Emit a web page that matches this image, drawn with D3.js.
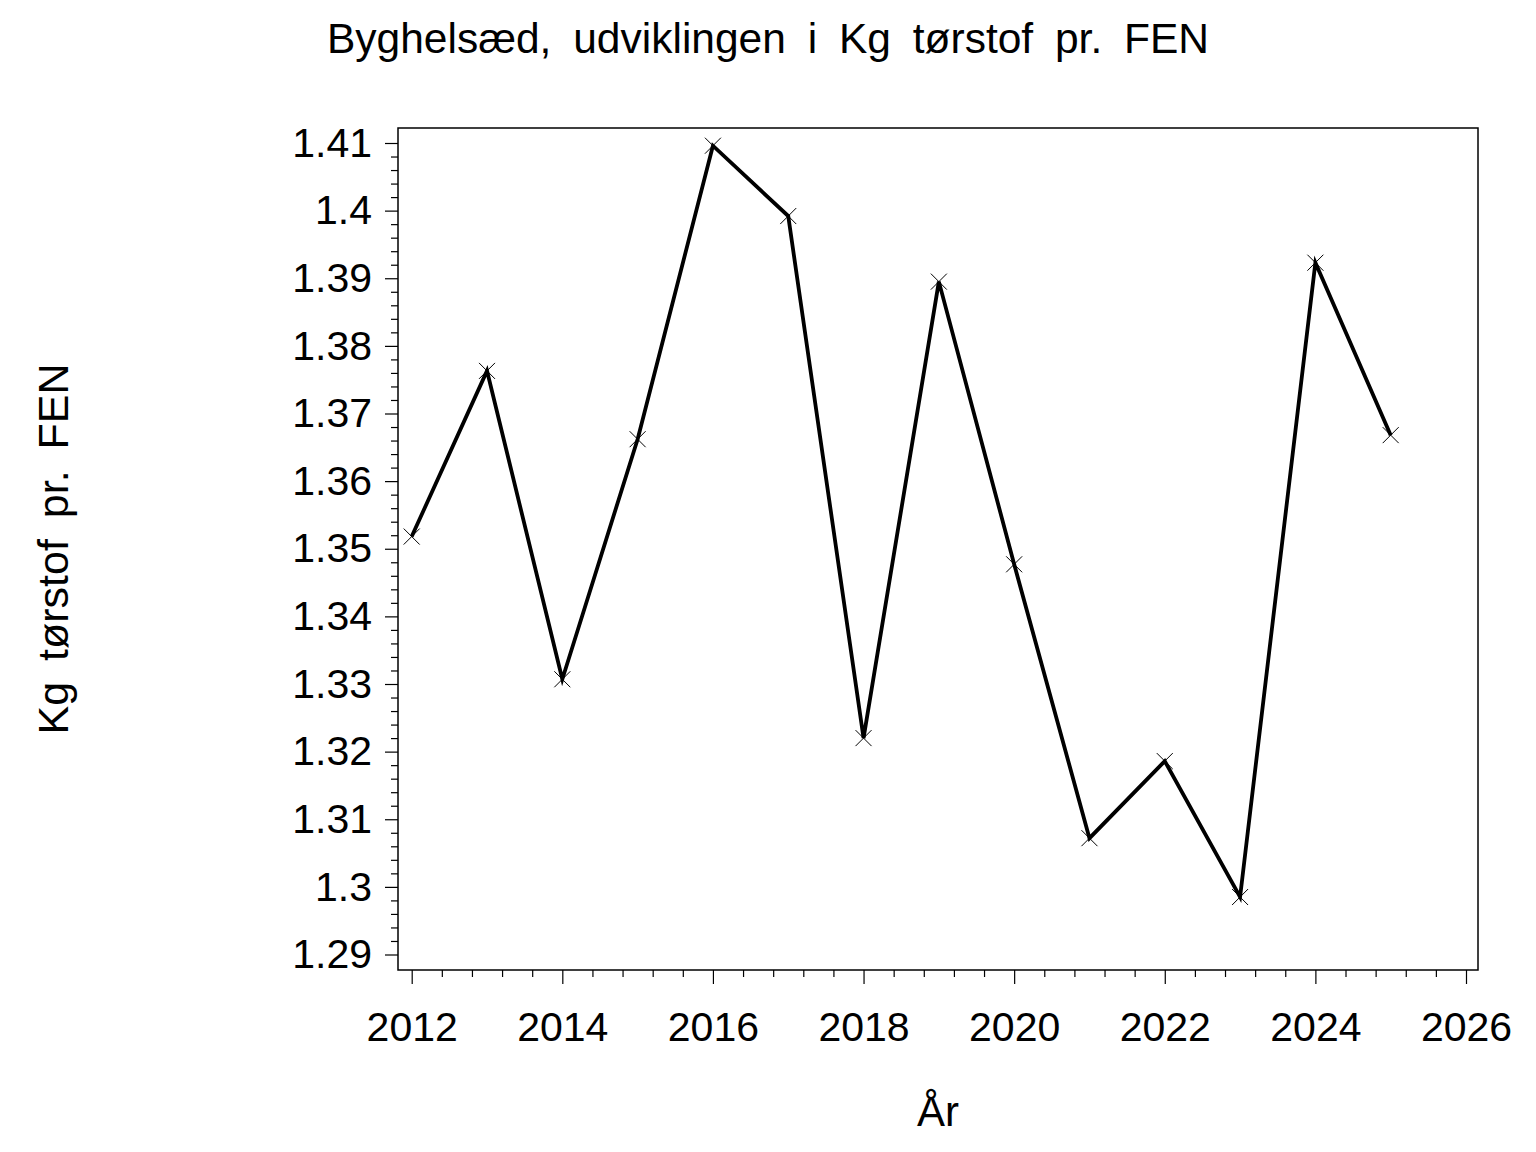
<!DOCTYPE html>
<html>
<head>
<meta charset="utf-8">
<script src="https://cdn.jsdelivr.net/npm/d3@7"></script>
<style>
  body { margin: 0; background: #fff; }
  text { font-family: "Liberation Sans", Arial, sans-serif; fill: #000; }
</style>
</head>
<body>
<svg id="chart"></svg>
<script>
// data
const years = [2012, 2013, 2014, 2015, 2016, 2017, 2018, 2019, 2020, 2021, 2022, 2023, 2024, 2025];
const values = [1.3518, 1.3763, 1.3307, 1.3662, 1.4096, 1.3992, 1.3220, 1.3895, 1.3477, 1.3072, 1.3186, 1.2985, 1.3923, 1.3668];
const yTicks = [1.29, 1.30, 1.31, 1.32, 1.33, 1.34, 1.35, 1.36, 1.37, 1.38, 1.39, 1.40, 1.41];
const xTicks = [2012, 2014, 2016, 2018, 2020, 2022, 2024, 2026];

const width = 1536, height = 1152;
const frame = { left: 398, right: 1478, top: 128, bottom: 970 };

const svg = d3.select("#chart")
  .attr("width", width)
  .attr("height", height);

const x = d3.scaleLinear().domain([2012, 2026]).range([411.7, 1466]);
const y = d3.scaleLinear().domain([1.29, 1.41]).range([954.5, 143]);

// minor ticks
const yMinor = d3.range(1290, 1411, 2).map(v => v / 1000).filter(v => Math.round(v * 1000) % 10 !== 0);
const xMinor = d3.range(20120, 20261, 4).map(v => v / 10).filter(v => Math.round(v * 10) % 20 !== 0);

// frame
svg.append("rect")
  .attr("x", frame.left)
  .attr("y", frame.top)
  .attr("width", frame.right - frame.left)
  .attr("height", frame.bottom - frame.top)
  .attr("fill", "none")
  .attr("stroke", "#000")
  .attr("stroke-width", 1.5);

// y axis
const yAxis = svg.append("g")
  .attr("transform", `translate(${frame.left},0)`)
  .call(d3.axisLeft(y).tickValues(yTicks).tickSize(13).tickPadding(13)
    .tickFormat(d => String(+d.toFixed(2))));
yAxis.select(".domain").remove();
yAxis.selectAll("text").attr("font-size", 41).attr("font-family", null);
yAxis.selectAll("line").attr("stroke-width", 1.2);

svg.append("g")
  .attr("transform", `translate(${frame.left},0)`)
  .call(d3.axisLeft(y).tickValues(yMinor).tickSize(7).tickFormat(""))
  .call(g => g.select(".domain").remove())
  .selectAll("line").attr("stroke-width", 1.2);

// x axis
const xAxis = svg.append("g")
  .attr("transform", `translate(0,${frame.bottom})`)
  .call(d3.axisBottom(x).tickValues(xTicks).tickSize(14).tickPadding(28)
    .tickFormat(d3.format("d")));
xAxis.select(".domain").remove();
xAxis.selectAll("text").attr("font-size", 41).attr("font-family", null);
xAxis.selectAll("line").attr("stroke-width", 1.2);

svg.append("g")
  .attr("transform", `translate(0,${frame.bottom})`)
  .call(d3.axisBottom(x).tickValues(xMinor).tickSize(7).tickFormat(""))
  .call(g => g.select(".domain").remove())
  .selectAll("line").attr("stroke-width", 1.2);

// line
const points = years.map((yr, i) => ({ year: yr, value: values[i] }));
svg.append("path")
  .datum(points)
  .attr("fill", "none")
  .attr("stroke", "#000")
  .attr("stroke-width", 3.8)
  .attr("stroke-linejoin", "miter")
  .attr("d", d3.line().x(d => x(d.year)).y(d => y(d.value)));

// x markers
const s = 8;
svg.append("g").selectAll("path")
  .data(points)
  .enter().append("path")
  .attr("fill", "none")
  .attr("stroke", "#000")
  .attr("stroke-width", 1)
  .attr("d", d => {
    const cx = x(d.year), cy = y(d.value);
    return `M${cx - s},${cy - s}L${cx + s},${cy + s}M${cx - s},${cy + s}L${cx + s},${cy - s}`;
  });

// titles
svg.append("text")
  .attr("x", 768)
  .attr("y", 53)
  .attr("text-anchor", "middle")
  .attr("font-size", 42.5)
  .attr("word-spacing", 10)
  .text("Byghelsæd, udviklingen i Kg tørstof pr. FEN");

svg.append("text")
  .attr("x", 938)
  .attr("y", 1126)
  .attr("text-anchor", "middle")
  .attr("font-size", 42)
  .text("År");

svg.append("text")
  .attr("transform", `translate(68,${(frame.top + frame.bottom) / 2}) rotate(-90)`)
  .attr("text-anchor", "middle")
  .attr("font-size", 43)
  .attr("word-spacing", 9)
  .text("Kg tørstof pr. FEN");
</script>
</body>
</html>
